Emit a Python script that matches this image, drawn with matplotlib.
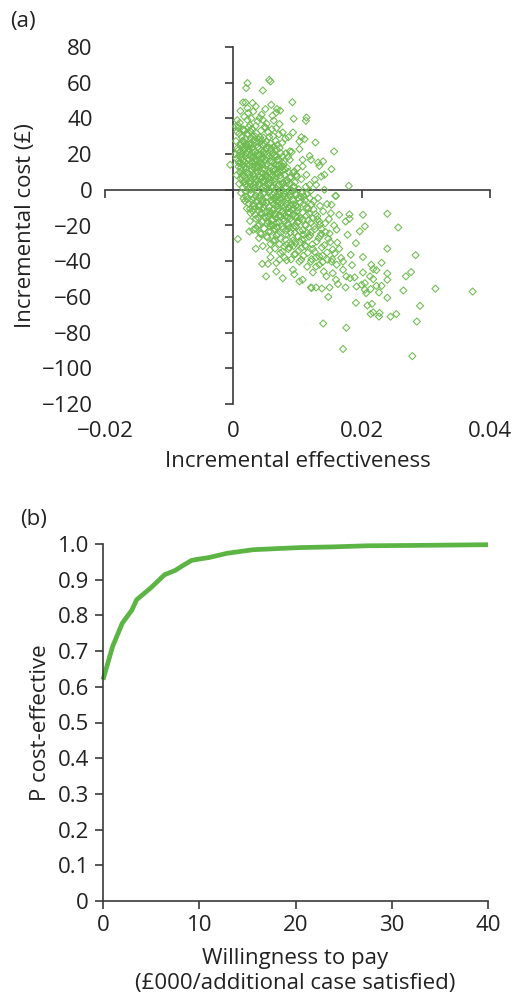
#!/usr/bin/env python3
"""
Cost-effectiveness plane (a) and acceptability curve (b) for the
bootstrapped incremental costs and effects.
"""
import matplotlib
matplotlib.use("Agg")
import matplotlib.pyplot as plt
from matplotlib.ticker import FixedLocator, FixedFormatter

plt.rcParams["font.family"] = ["Open Sans", "DejaVu Sans"]

GREEN_PTS = "#6dbb4f"
GREEN_LINE = "#5cb445"
AXIS_COL = "#3a3a3a"
TEXT_COL = "#222222"

# Bootstrap replicates: (incremental effectiveness, incremental cost in GBP)
ce_points = [
    # upper tail
    (0.0022, 59.8), (0.0020, 57.0), (0.0056, 61.6), (0.0058, 60.7), (0.0046, 55.6),
    (0.0015, 48.9), (0.0019, 48.9), (0.0030, 48.6), (0.0035, 46.7), (0.0022, 45.8),
    (0.0059, 47.6), (0.0092, 49.1), (0.0050, 45.2), (0.0068, 45.2), (0.0073, 44.4),
    (0.0067, 43.3), (0.0023, 43.0), (0.0041, 40.2), (0.0114, 40.5), (0.0113, 38.7),
    (0.0094, 39.8), (0.0061, 41.5), (0.0022, 39.2), (0.0046, 39.2), (0.0008, 35.9),
    (0.0006, 32.5), (0.0015, 33.6), (0.0067, 34.6), (0.0077, 32.1), (0.0093, 32.1),
    (0.0086, 29.5), (0.0106, 29.5), (0.0111, 28.4), (0.0103, 27.1), (0.0128, 26.5),
    (0.0157, 21.5), (0.0103, 22.8), (0.0088, 21.5), (0.0119, 19.0), (0.0121, 16.8),
    (0.0132, 15.3), (0.0140, 15.9), (0.0134, 13.4), (0.0153, 11.6), (0.0142, 8.4),
    (0.0137, 7.5), (0.0114, 8.4), (0.0098, 8.4), (0.0129, 2.8), (0.0119, 2.8),
    (0.0160, -3.4), (0.0142, 0.0), (-0.0005, 14.0), (0.0127, 5.6), (0.0108, 16.8),
    (0.0100, 12.1), (0.0095, 10.3), (0.0108, 13.1), (0.0082, 20.5), (0.0077, 18.7),
    (0.0088, 16.8), (0.0077, 13.1), (0.0072, 10.3), (0.0004, 35.5), (0.0180, 2.2),
    # band 35 to 45
    (0.0010, 37.5), (0.0017, 41.0), (0.0026, 36.2), (0.0031, 43.8), (0.0038, 38.4),
    (0.0044, 42.1), (0.0052, 37.0), (0.0011, 44.2), (0.0028, 39.9), (0.0063, 38.8),
    (0.0049, 35.3), (0.0072, 36.8), (0.0006, 39.0), (0.0035, 35.8),
    # band 25 to 35
    (0.0004, 27.3), (0.0009, 31.4), (0.0012, 26.0), (0.0016, 33.8), (0.0019, 28.7),
    (0.0023, 30.9), (0.0025, 25.6), (0.0029, 34.2), (0.0032, 27.9), (0.0036, 31.7),
    (0.0040, 26.4), (0.0043, 33.1), (0.0047, 29.2), (0.0051, 27.0), (0.0054, 32.4),
    (0.0058, 25.9), (0.0062, 30.0), (0.0066, 27.5), (0.0071, 31.1), (0.0076, 26.2),
    (0.0081, 28.8), (0.0013, 29.6), (0.0021, 25.1), (0.0034, 29.9), (0.0045, 25.4),
    (0.0056, 29.7), (0.0008, 34.6), (0.0027, 32.6), (0.0039, 28.3), (0.0060, 33.9),
    (0.0050, 34.7), (0.0017, 27.0), (0.0030, 30.1), (0.0069, 25.2),
    # band 15 to 25
    (0.0003, 19.8), (0.0006, 23.2), (0.0008, 16.1), (0.0011, 21.4), (0.0013, 18.0),
    (0.0015, 24.3), (0.0018, 15.6), (0.0020, 20.7), (0.0022, 17.3), (0.0024, 22.6),
    (0.0026, 19.0), (0.0028, 15.2), (0.0030, 23.8), (0.0032, 18.5), (0.0034, 21.1),
    (0.0036, 16.4), (0.0038, 24.0), (0.0040, 19.6), (0.0042, 15.9), (0.0044, 22.0),
    (0.0046, 17.8), (0.0048, 20.3), (0.0050, 16.7), (0.0052, 23.5), (0.0055, 18.9),
    (0.0058, 21.8), (0.0061, 15.4), (0.0064, 19.3), (0.0067, 22.9), (0.0070, 17.0),
    (0.0074, 20.6), (0.0079, 16.2), (0.0085, 18.4), (0.0009, 19.2), (0.0016, 21.9),
    (0.0027, 24.7), (0.0033, 16.0), (0.0041, 23.0), (0.0053, 20.0), (0.0063, 24.1),
    (0.0072, 23.4), (0.0012, 15.0), (0.0021, 23.9), (0.0037, 19.4), (0.0047, 24.6),
    (0.0057, 16.3), (0.0068, 18.6), (0.0091, 21.2), (0.0005, 17.5), (0.0019, 18.8),
    (0.0029, 20.9), (0.0043, 17.4), (0.0059, 23.1),
    # band 5 to 15
    (0.0005, 8.2), (0.0008, 12.9), (0.0011, 6.4), (0.0013, 10.7), (0.0015, 14.1),
    (0.0017, 7.6), (0.0019, 11.8), (0.0021, 5.3), (0.0023, 9.4), (0.0025, 13.6),
    (0.0027, 6.9), (0.0029, 11.2), (0.0031, 8.7), (0.0033, 14.5), (0.0035, 5.8),
    (0.0037, 10.1), (0.0039, 12.4), (0.0041, 7.1), (0.0043, 9.8), (0.0045, 13.9),
    (0.0047, 5.1), (0.0049, 11.5), (0.0051, 8.0), (0.0053, 14.3), (0.0055, 6.6),
    (0.0057, 10.4), (0.0059, 12.8), (0.0061, 7.9), (0.0063, 5.5), (0.0065, 11.0),
    (0.0068, 9.0), (0.0071, 13.3), (0.0074, 6.2), (0.0077, 10.9), (0.0080, 8.5),
    (0.0084, 12.2), (0.0088, 6.8), (0.0093, 9.6), (0.0099, 7.3), (0.0106, 5.9),
    (0.0010, 9.9), (0.0018, 13.0), (0.0026, 5.0), (0.0034, 12.0), (0.0042, 14.8),
    (0.0050, 6.0), (0.0058, 8.9), (0.0066, 14.0), (0.0075, 12.7), (0.0086, 10.0),
    (0.0014, 8.3), (0.0030, 6.1), (0.0046, 9.1), (0.0062, 10.3), (0.0078, 14.6),
    # band -5 to 5
    (0.0009, 3.4), (0.0012, -1.8), (0.0015, 1.2), (0.0018, 4.6), (0.0020, -3.7),
    (0.0023, 0.5), (0.0025, 3.9), (0.0028, -2.4), (0.0030, 1.8), (0.0032, -4.6),
    (0.0035, 4.2), (0.0037, -0.9), (0.0039, 2.6), (0.0042, -3.2), (0.0044, 0.1),
    (0.0046, 4.9), (0.0048, -1.5), (0.0050, 2.2), (0.0053, -4.1), (0.0055, 3.1),
    (0.0057, -0.3), (0.0060, 1.5), (0.0062, -2.9), (0.0064, 4.4), (0.0067, 0.8),
    (0.0069, -3.9), (0.0072, 2.9), (0.0074, -1.1), (0.0077, 4.0), (0.0079, -2.0),
    (0.0082, 1.0), (0.0085, -4.4), (0.0088, 3.3), (0.0091, -0.6), (0.0094, 2.0),
    (0.0098, -3.0), (0.0102, 0.3), (0.0107, -1.9), (0.0113, 1.7), (0.0120, -0.8),
    (0.0016, -4.9), (0.0027, 0.0), (0.0040, -4.8), (0.0052, 0.6), (0.0065, -4.7),
    (0.0076, -0.1), (0.0089, 0.4), (0.0101, -4.5), (0.0034, 3.0), (0.0047, 1.4),
    (0.0059, 4.7), (0.0071, -2.6), (0.0083, 3.8), (0.0096, 4.1), (0.0110, -3.6),
    # band -15 to -5
    (0.0018, -6.3), (0.0021, -10.4), (0.0024, -7.8), (0.0027, -13.1), (0.0029, -5.6),
    (0.0032, -9.2), (0.0034, -14.0), (0.0036, -6.9), (0.0039, -11.7), (0.0041, -8.4),
    (0.0043, -13.8), (0.0045, -5.2), (0.0047, -10.0), (0.0050, -12.5), (0.0052, -7.1),
    (0.0054, -14.6), (0.0056, -9.7), (0.0059, -5.9), (0.0061, -11.3), (0.0063, -8.0),
    (0.0065, -13.4), (0.0068, -6.5), (0.0070, -10.8), (0.0072, -14.3), (0.0075, -7.6),
    (0.0077, -12.0), (0.0080, -9.4), (0.0083, -5.4), (0.0085, -13.0), (0.0088, -8.8),
    (0.0091, -11.1), (0.0094, -6.1), (0.0097, -14.8), (0.0100, -9.9), (0.0104, -7.3),
    (0.0108, -12.7), (0.0112, -5.8), (0.0117, -10.5), (0.0122, -8.2), (0.0128, -13.6),
    (0.0135, -9.0), (0.0030, -11.9), (0.0046, -7.4), (0.0058, -13.9), (0.0073, -5.1),
    (0.0086, -10.2), (0.0099, -12.2), (0.0114, -14.4), (0.0040, -9.5), (0.0064, -10.6),
    (0.0079, -13.5), (0.0093, -8.1), (0.0125, -6.4), (0.0159, -3.4), (0.0153, -8.4),
    (0.0165, -14.0),
    # band -25 to -15
    (0.0026, -17.5), (0.0031, -22.4), (0.0035, -16.2), (0.0038, -20.1), (0.0042, -24.3),
    (0.0045, -18.0), (0.0048, -21.7), (0.0051, -15.6), (0.0055, -23.5), (0.0058, -19.2),
    (0.0061, -16.8), (0.0064, -22.0), (0.0067, -18.6), (0.0070, -24.8), (0.0073, -15.3),
    (0.0076, -20.7), (0.0079, -17.4), (0.0082, -23.0), (0.0086, -19.8), (0.0089, -16.0),
    (0.0093, -21.3), (0.0096, -24.0), (0.0100, -18.3), (0.0104, -15.9), (0.0108, -22.6),
    (0.0112, -19.5), (0.0117, -17.0), (0.0121, -23.8), (0.0126, -20.4), (0.0131, -16.6),
    (0.0137, -21.9), (0.0143, -18.8), (0.0150, -24.5), (0.0157, -20.0), (0.0053, -19.0),
    (0.0069, -21.1), (0.0084, -15.2), (0.0098, -20.9), (0.0115, -24.2), (0.0134, -17.8),
    (0.0025, -23.3), (0.0181, -16.2), (0.0175, -17.8), (0.0181, -13.8), (0.0178, -25.2),
    (0.0202, -14.0), (0.0205, -20.5), (0.0197, -23.3), (0.0240, -13.4), (0.0257, -21.1),
    # band -35 to -25
    (0.0040, -27.0), (0.0046, -31.5), (0.0052, -26.1), (0.0057, -33.8), (0.0062, -28.7),
    (0.0068, -25.5), (0.0072, -30.4), (0.0077, -34.6), (0.0081, -27.8), (0.0087, -32.2),
    (0.0092, -26.6), (0.0097, -29.9), (0.0102, -34.0), (0.0107, -28.0), (0.0113, -31.8),
    (0.0118, -26.3), (0.0124, -33.1), (0.0130, -29.0), (0.0136, -25.8), (0.0142, -31.0),
    (0.0148, -27.4), (0.0155, -33.5), (0.0162, -29.6), (0.0065, -32.9), (0.0090, -30.5),
    (0.0110, -25.2), (0.0127, -34.8), (0.0007, -27.6), (0.0035, -33.0), (0.0191, -29.9),
    (0.0240, -33.0), (0.0284, -36.6),
    # lower tail
    (0.0058, -37.8), (0.0083, -39.5), (0.0095, -36.2), (0.0115, -43.1), (0.0139, -36.9),
    (0.0158, -35.6), (0.0168, -38.2), (0.0231, -40.9), (0.0277, -46.1), (0.0269, -48.5),
    (0.0240, -46.9), (0.0240, -50.4), (0.0315, -55.4), (0.0373, -57.0), (0.0265, -56.4),
    (0.0240, -60.5), (0.0291, -65.0), (0.0286, -73.8), (0.0254, -69.6), (0.0245, -71.1),
    (0.0228, -69.0), (0.0227, -71.0), (0.0218, -68.7), (0.0214, -69.6), (0.0209, -64.8),
    (0.0216, -63.9), (0.0191, -63.3), (0.0176, -77.3), (0.0140, -74.9), (0.0171, -89.2),
    (0.0279, -93.2), (0.0148, -60.0), (0.0121, -54.7), (0.0129, -54.7), (0.0138, -55.3),
    (0.0150, -54.7), (0.0163, -52.8), (0.0175, -54.7), (0.0192, -54.2), (0.0200, -53.2),
    (0.0205, -52.3), (0.0207, -57.9), (0.0214, -55.6), (0.0205, -56.0), (0.0223, -53.8),
    (0.0227, -57.5), (0.0231, -53.8), (0.0218, -50.0), (0.0213, -48.5), (0.0218, -44.4),
    (0.0223, -45.0), (0.0215, -42.0), (0.0202, -46.3), (0.0189, -49.1), (0.0185, -42.2),
    (0.0202, -37.7), (0.0183, -36.4), (0.0051, -48.5), (0.0045, -41.5), (0.0054, -41.5),
    (0.0077, -49.5), (0.0103, -51.3), (0.0108, -50.4), (0.0095, -47.3), (0.0093, -44.8),
    (0.0067, -41.0), (0.0072, -39.2), (0.0103, -40.2), (0.0106, -39.2), (0.0124, -46.3),
    (0.0129, -43.0), (0.0141, -45.8), (0.0145, -48.5), (0.0155, -46.7), (0.0160, -50.4),
    (0.0171, -44.8), (0.0176, -48.5), (0.0182, -49.5), (0.0171, -40.2), (0.0161, -42.0),
    (0.0153, -40.2), (0.0134, -42.0), (0.0121, -40.2), (0.0134, -37.4), (0.0147, -39.2),
    (0.0067, -45.8), (0.0122, -55.0),
    # dense core, left part
    (0.0012, 12.3), (0.0014, 27.4), (0.0016, 4.1), (0.0018, 22.8), (0.0020, 9.6),
    (0.0022, 31.2), (0.0024, 16.9), (0.0026, 1.7), (0.0028, 26.1), (0.0030, 12.9),
    (0.0013, 19.7), (0.0017, 33.0), (0.0021, 14.4), (0.0025, 8.8), (0.0029, 18.2),
    (0.0011, 24.9), (0.0015, 16.3), (0.0019, 2.9), (0.0023, 21.5), (0.0027, 29.0),
    (0.0007, 22.0), (0.0009, 14.9), (0.0014, 6.7), (0.0024, 35.1), (0.0031, -7.8),
    (0.0022, -5.3), (0.0026, -10.6), (0.0019, -1.0),
    (0.0031, 22.3), (0.0033, 7.4), (0.0035, -3.1), (0.0036, 26.8), (0.0038, 14.2),
    (0.0040, 3.6), (0.0041, -8.9), (0.0043, 19.9), (0.0044, -12.8), (0.0046, 11.7),
    (0.0047, -2.2), (0.0049, 25.6), (0.0032, -10.9), (0.0034, 17.2), (0.0037, -6.0),
    (0.0039, 8.1), (0.0042, 29.3), (0.0045, 6.9), (0.0048, -14.9), (0.0050, 13.6),
    (0.0033, 1.1), (0.0039, -15.6), (0.0044, 27.7), (0.0048, 4.3), (0.0036, 12.6),
    (0.0041, -19.4), (0.0046, 21.3), (0.0035, -21.8), (0.0043, -24.9), (0.0049, -8.6),
    # dense core, middle
    (0.0051, -4.4), (0.0052, 18.1), (0.0054, -17.7), (0.0055, 9.3), (0.0056, -11.9),
    (0.0057, 3.9), (0.0058, -23.4), (0.0059, 15.8), (0.0060, -7.0), (0.0061, 0.9),
    (0.0062, -19.9), (0.0063, 11.9), (0.0064, -14.2), (0.0065, 6.3), (0.0066, -3.6),
    (0.0067, -25.6), (0.0068, 16.6), (0.0069, -9.1), (0.0070, 2.5), (0.0053, -26.8),
    (0.0055, -1.2), (0.0057, -20.5), (0.0059, -13.0), (0.0061, 20.2), (0.0063, -5.0),
    (0.0065, -28.2), (0.0067, -15.9), (0.0069, 9.7), (0.0052, 7.7), (0.0058, -30.3),
    (0.0064, -1.9), (0.0066, 18.9), (0.0056, 23.7), (0.0060, -17.2), (0.0068, -21.0),
    (0.0071, -17.9), (0.0072, -6.7), (0.0073, 8.0), (0.0074, -27.3), (0.0075, -12.4),
    (0.0076, 3.2), (0.0077, -21.9), (0.0078, -3.5), (0.0079, -31.8), (0.0080, 11.4),
    (0.0081, -14.8), (0.0082, -25.1), (0.0083, -7.9), (0.0084, 5.2), (0.0085, -19.1),
    (0.0086, -33.2), (0.0087, -2.9), (0.0088, -12.9), (0.0089, -23.9), (0.0090, 7.1),
    (0.0091, -17.6), (0.0092, -5.7), (0.0093, -28.4), (0.0094, -10.3), (0.0095, 1.6),
    (0.0096, -20.2), (0.0097, -36.0), (0.0098, -8.6), (0.0099, -15.4), (0.0100, -26.0),
    (0.0073, -35.4), (0.0078, -16.2), (0.0083, -30.8), (0.0088, -0.8), (0.0093, -14.1),
    (0.0098, -2.6), (0.0075, -9.4), (0.0081, -3.9), (0.0087, -21.4), (0.0094, -31.4),
    (0.0071, 13.8), (0.0080, -38.0), (0.0090, -39.0),
    # dense core, right part
    (0.0101, -11.6), (0.0103, -22.9), (0.0105, -3.8), (0.0106, -32.7), (0.0108, -16.9),
    (0.0110, -7.9), (0.0111, -27.6), (0.0113, -20.0), (0.0115, -2.1), (0.0116, -35.3),
    (0.0118, -13.2), (0.0120, -25.4), (0.0121, -18.4), (0.0123, -30.6), (0.0125, -10.9),
    (0.0127, -22.1), (0.0129, -37.9), (0.0131, -14.7), (0.0133, -27.0), (0.0135, -19.6),
    (0.0138, -32.3), (0.0140, -12.1), (0.0104, -29.5), (0.0109, -37.0), (0.0114, -10.0),
    (0.0119, -4.7), (0.0124, -16.0), (0.0132, -4.6), (0.0137, -24.6), (0.0102, -17.5),
    (0.0112, -31.1), (0.0122, -38.8), (0.0139, -40.5), (0.0144, -23.7), (0.0146, -35.1),
    (0.0151, -29.3), (0.0149, -16.4), (0.0154, -38.9), (0.0161, -22.3), (0.0165, -33.0),
    (0.0146, -8.0), (0.0152, -13.1),
]

# Cost-effectiveness acceptability curve
wtp = [0, 1, 2, 3, 3.5, 5, 6.4, 7.5, 8.2, 9.2, 10, 11, 12.9, 15.6, 18, 20.5, 24, 27.4, 32, 36, 40]
p_ce = [0.620, 0.713, 0.778, 0.815, 0.844, 0.878, 0.914, 0.926, 0.938, 0.954, 0.958,
        0.962, 0.974, 0.984, 0.987, 0.990, 0.992, 0.995, 0.996, 0.997, 0.998]

cost_ticks = list(range(-120, 81, 20))
effect_ticks = [-0.02, 0, 0.02, 0.04]
effect_labels = ["\u22120.02", "0", "0.02", "0.04"]
cost_labels = [("\u2212%d" % -v) if v < 0 else "%d" % v for v in cost_ticks]
wtp_ticks = [0, 10, 20, 30, 40]
p_ticks = [i / 10 for i in range(11)]
p_labels = ["0"] + ["%.1f" % v for v in p_ticks[1:]]

FS = 16

fig = plt.figure(figsize=(5.13, 9.94), dpi=100)

# ---- (a) cost-effectiveness plane -----------------------------------------
pos_a = [105 / 513, 1 - 404 / 994, 385 / 513, 357 / 994]
ax = fig.add_axes(pos_a)
ax.set_xlim(-0.02, 0.04)
ax.set_ylim(-120, 80)
ax.scatter([p[0] for p in ce_points], [p[1] for p in ce_points],
           marker="D", s=13, facecolors="none", edgecolors=GREEN_PTS,
           linewidths=0.75, zorder=3)
for side in ("top", "right"):
    ax.spines[side].set_visible(False)
ax.spines["left"].set_position(("data", 0))
ax.spines["bottom"].set_position(("data", 0))
for side in ("left", "bottom"):
    ax.spines[side].set_color(AXIS_COL)
    ax.spines[side].set_linewidth(1.2)
ax.xaxis.set_major_locator(FixedLocator(effect_ticks))
ax.yaxis.set_major_locator(FixedLocator(cost_ticks))
ax.tick_params(direction="out", length=6, width=1.2, color=AXIS_COL,
               labelleft=False, labelbottom=False)

# tick labels sit at the outer edge, away from the crossing axes
lab = fig.add_axes(pos_a, frameon=False)
lab.set_xlim(-0.02, 0.04)
lab.set_ylim(-120, 80)
lab.xaxis.set_major_locator(FixedLocator(effect_ticks))
lab.xaxis.set_major_formatter(FixedFormatter(effect_labels))
lab.yaxis.set_major_locator(FixedLocator(cost_ticks))
lab.yaxis.set_major_formatter(FixedFormatter(cost_labels))
lab.tick_params(length=0, labelsize=FS, labelcolor=TEXT_COL)
lab.tick_params(axis="y", pad=9)
lab.tick_params(axis="x", pad=12)
lab.set_xlabel("Incremental effectiveness", fontsize=FS, color=TEXT_COL, labelpad=7)
lab.set_ylabel("Incremental cost (\u00a3)", fontsize=FS, color=TEXT_COL, labelpad=4)
lab.patch.set_visible(False)

fig.text(10 / 513, 1 - 22 / 994, "(a)", fontsize=FS, color=TEXT_COL, va="center")

# ---- (b) acceptability curve ----------------------------------------------
pos_b = [103 / 513, 1 - 901 / 994, 385 / 513, 357 / 994]
bx = fig.add_axes(pos_b)
bx.plot(wtp, p_ce, color=GREEN_LINE, lw=3.4, solid_capstyle="butt", clip_on=False)
bx.set_xlim(0, 40)
bx.set_ylim(0, 1)
for side in ("top", "right"):
    bx.spines[side].set_visible(False)
for side in ("left", "bottom"):
    bx.spines[side].set_color(AXIS_COL)
    bx.spines[side].set_linewidth(1.2)
bx.xaxis.set_major_locator(FixedLocator(wtp_ticks))
bx.yaxis.set_major_locator(FixedLocator(p_ticks))
bx.yaxis.set_major_formatter(FixedFormatter(p_labels))
bx.tick_params(direction="out", length=6, width=1.2, color=AXIS_COL,
               labelsize=FS, labelcolor=TEXT_COL, pad=4)
bx.set_xlabel("Willingness to pay\n(\u00a3000/additional case satisfied)",
              fontsize=FS, color=TEXT_COL, labelpad=9, linespacing=1.25)
bx.set_ylabel("P cost-effective", fontsize=FS, color=TEXT_COL, labelpad=5)

fig.text(20 / 513, 1 - 520 / 994, "(b)", fontsize=FS, color=TEXT_COL, va="center")

fig.savefig("out.png", dpi=100)
